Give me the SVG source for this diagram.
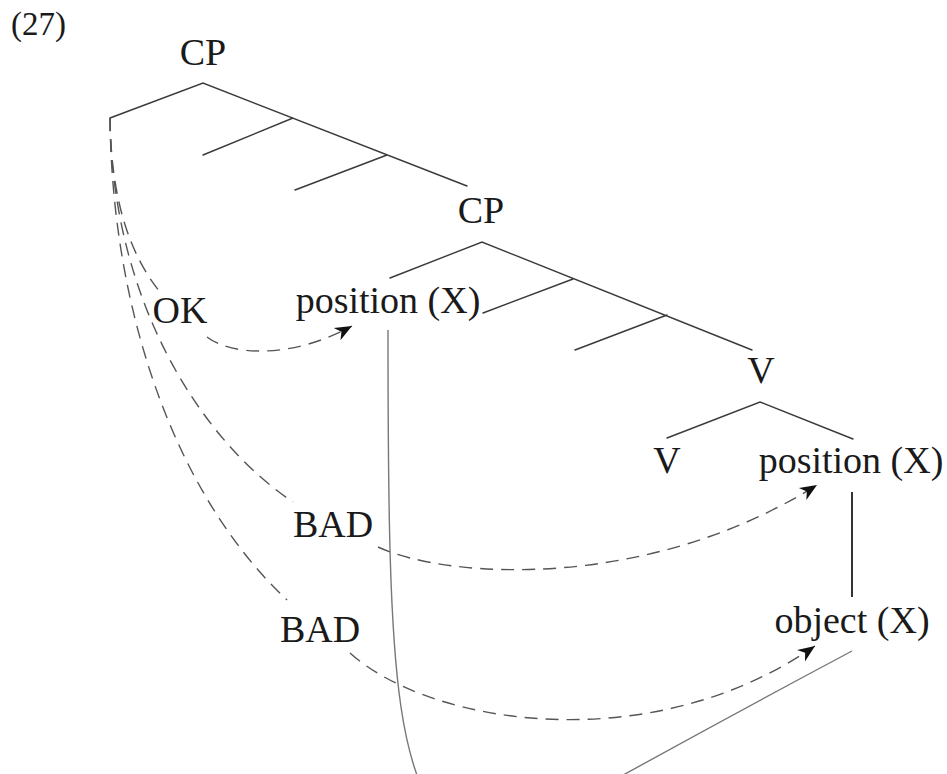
<svg xmlns="http://www.w3.org/2000/svg" width="947" height="774" viewBox="0 0 947 774">
<style>
text{font-family:"Liberation Serif","Times New Roman",serif;font-size:38px;fill:#1a1a1a;text-anchor:middle}
.tree{fill:none;stroke:#3a3a3a;stroke-width:1.4;stroke-linecap:round}
.dash{fill:none;stroke:#555;stroke-width:1.4;stroke-dasharray:13 8}
.move{fill:none;stroke:#777;stroke-width:1.4}
.link{fill:none;stroke:#111;stroke-width:1.7}
</style>
<defs>
<marker id="stealth" markerUnits="userSpaceOnUse" markerWidth="18" markerHeight="16" refX="17" refY="7" orient="auto" viewBox="0 0 18 14">
<path d="M0,0 L17,7 L0,14 L5,7 Z" fill="#111"/>
</marker>
</defs>
<rect width="947" height="774" fill="#fff"/>
<text x="11" y="35" style="font-size:33px;text-anchor:start">(27)</text>
<g id="connectors">
<path class="tree" d="M110,118 L203,83 L467,186 M293,118 L203,155 M387,155 L295,190"/>
<path class="tree" d="M390,278 L482,242 L752,350 M573,279 L483,313 M667,315 L575,350"/>
<path class="tree" d="M667,438 L760,402 L853,439"/>
<path class="link" d="M852,492 L852,597"/>
<path class="move" d="M852,651 C760,700 650,760 560,810 L470,850 C395,790 388,700 388,330"/>
<path class="dash" marker-end="url(#stealth)" d="M110,118 C111,200 130,255 160,292 M207,337 C230,355 290,360 352,326"/>
<path class="dash" marker-end="url(#stealth)" d="M110,118 C112,300 200,440 293,502 M378,547 C450,580 650,590 817,485"/>
<path class="dash" marker-end="url(#stealth)" d="M110,118 C112,320 180,500 287,600 M350,653 C430,725 650,760 815,646"/>
</g>
<g id="cp-top"><text x="203" y="65">CP</text></g>
<g id="cp-lower"><text x="481" y="223">CP</text></g>
<g id="position-c"><text x="388" y="313">position (X)</text></g>
<g id="v-top"><text x="761" y="383">V</text></g>
<g id="v-head"><text x="667" y="473">V</text></g>
<g id="position-v"><text x="851" y="473">position (X)</text></g>
<g id="object"><text x="852" y="633">object (X)</text></g>
<g id="label-ok"><text x="180" y="323">OK</text></g>
<g id="label-bad1"><text x="333" y="537">BAD</text></g>
<g id="label-bad2"><text x="320" y="642">BAD</text></g>
</svg>
